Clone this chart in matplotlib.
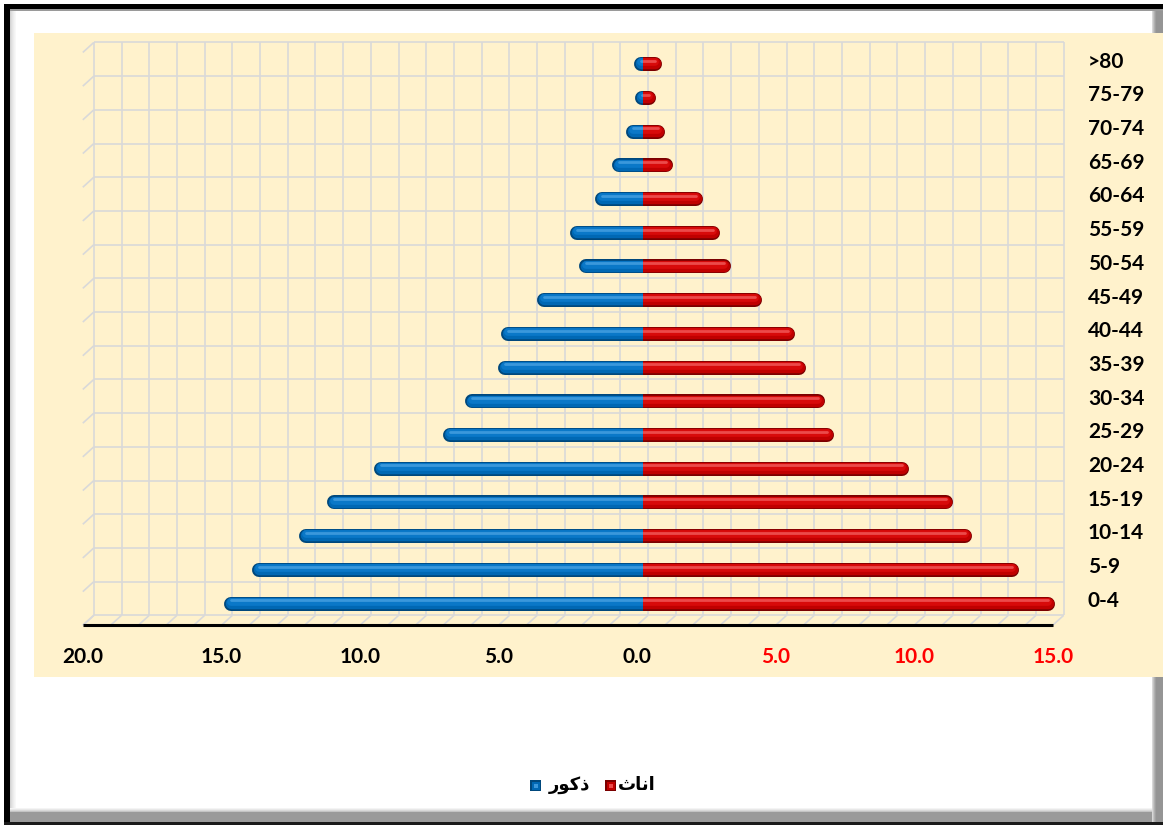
import matplotlib
matplotlib.use("Agg")
import matplotlib.pyplot as plt
from matplotlib.patches import Rectangle
from matplotlib import transforms

# age pyramid data (percent of population)
age_groups = ["0-4", "5-9", "10-14", "15-19", "20-24", "25-29", "30-34", "35-39",
              "40-44", "45-49", "50-54", "55-59", "60-64", "65-69", "70-74",
              "75-79", ">80"]
males = [15.1, 14.1, 12.4, 11.4, 9.7, 7.2, 6.4, 5.2, 5.1, 3.8, 2.3, 2.6, 1.7,
         1.1, 0.6, 0.2, 0.3]
females = [14.9, 13.6, 11.9, 11.2, 9.6, 6.9, 6.6, 5.9, 5.5, 4.3, 3.2, 2.8, 2.2,
           1.1, 0.8, 0.5, 0.7]

x_ticks = [-20, -15, -10, -5, 0, 5, 10, 15]
x_tick_labels = ["20.0", "15.0", "10.0", "5.0", "0.0", "5.0", "10.0", "15.0"]
x_tick_colors = ["black"] * 5 + ["#ff0000"] * 3

# legend entries (Arabic, pre-shaped presentation forms in visual order)
legend_males = "\uFEAD\uFEEE\uFEDB\uFEAB"    # ذكور
legend_females = "\uFE99\uFE8E\uFEE7\uFE8D"  # اناث

W, H = 1163, 825
fig = plt.figure(figsize=(W / 100, H / 100), dpi=100)
fig.patch.set_facecolor("white")


def add_rect(x0, y0, x1, y1, color, z=0):
    # rectangle given in pixels, origin at top-left
    fig.patches.append(Rectangle((x0 / W, 1 - y1 / H), (x1 - x0) / W, (y1 - y0) / H,
                                 transform=fig.transFigure, facecolor=color,
                                 edgecolor="none", zorder=z))


# frame around the chart
add_rect(4, 4, W, 9, "black")
add_rect(4, 4, 10, H, "black")
add_rect(10, 9, W, 11, "#9a9a9a")
for i, c in enumerate(["#d4d4d4", "#dedede", "#e6e6e6", "#ededed", "#f3f3f3", "#f8f8f8"]):
    add_rect(10 + i, 11, 11 + i, 812, c)
for i, c in enumerate(["#f4f4f4", "#e8e8e8", "#d8d8d8", "#c4c4c4"]):
    add_rect(10, 808 + i, 1152, 809 + i, c)
add_rect(10, 812, W, 822, "#9a9a9a")
add_rect(4, 822, W, H, "#1a1a1a")
for i, c in enumerate(["#d8d8d8", "#c4c4c4", "#b0b0b0", "#a0a0a0"]):
    add_rect(1152 + i, 11, 1153 + i, 822, c)
add_rect(1156, 11, W, 822, "#959595")

# chart background panel
add_rect(34, 33, W, 677, "#FFF2CC", z=1)

# plot scale: pixels per unit on x, pixels per category on y
PX_X, PX_Y = 27.71, 33.7
ZERO_PX, ROW0_PX = 642.5, 603.5
ax = fig.add_axes([40 / W, 1 - 670 / H, 1110 / W, 635 / H])
ax.set_zorder(5)
ax.set_xlim((40 - ZERO_PX) / PX_X, (1150 - ZERO_PX) / PX_X)
ax.set_ylim((ROW0_PX - 670) / PX_Y, (ROW0_PX - 35) / PX_Y)
ax.axis("off")
ax.patch.set_alpha(0)

# depth offset between back wall / bar plane / front edge
DX, DY = 5.5 / PX_X, 5.0 / PX_Y
n = len(age_groups)
grid_kw = dict(color="#d9d9d9", lw=1.2, zorder=1, solid_capstyle="butt")

for v in range(-20, 16):
    ax.plot([v + DX, v + DX], [-0.5 + DY, n - 0.5 + DY], **grid_kw)
    ax.plot([v - DX, v + DX], [-0.5 - DY, -0.5 + DY], **grid_kw)
for k in range(n + 1):
    y = k - 0.5
    ax.plot([-20 + DX, 15 + DX], [y + DY, y + DY], **grid_kw)
    ax.plot([-20 - DX, -20 + DX], [y - DY, y + DY], **grid_kw)
ax.plot([-20 - DX, 15 - DX], [-0.5 - DY, -0.5 - DY], color="black", lw=2.2,
        zorder=2, solid_capstyle="butt")

# tube-like bars: stacked round-capped lines with shading
BAR_PX = 14
r = (BAR_PX / 2) / PX_X
blue_shades = ["#00487c", "#0068b4", "#0a78c8", "#3a98dc"]
red_shades = ["#7a0000", "#c00000", "#d80a0a", "#ec4a4a"]
layers = [(1.0, 0.0), (0.82, 0.8), (0.55, 1.8), (0.2, 3.2)]

left_clip = Rectangle((-30, -5), 30, 40, transform=ax.transData)
right_clip = Rectangle((0, -5), 30, 40, transform=ax.transData)

for i in range(n):
    for side, vals, shades, clip in ((-1, males, blue_shades, left_clip),
                                     (1, females, red_shades, right_clip)):
        end = side * max(vals[i] - r, 0.01)
        for (frac, dy), col in zip(layers, shades):
            tr = transforms.offset_copy(ax.transData, fig=fig, x=0, y=dy, units="dots")
            ln, = ax.plot([-side * r, end], [i, i], color=col,
                          lw=BAR_PX * frac * 0.72, solid_capstyle="round",
                          transform=tr, zorder=3)
            ln.set_clip_path(clip)

# axis labels
font = "Lato"
for v, lab, c in zip(x_ticks, x_tick_labels, x_tick_colors):
    ax.text(v - DX, (ROW0_PX - 657) / PX_Y, lab, ha="center", va="center",
            color=c, fontsize=15, fontweight="bold", family=font)
for i, lab in enumerate(age_groups):
    ax.text((1088 - ZERO_PX) / PX_X, i + 0.08, lab, ha="left", va="center",
            color="black", fontsize=15, fontweight="bold", family=font)

# legend
def legend_square(x0, shades):
    add_rect(x0, 780, x0 + 11, 791, shades[0], z=2)
    add_rect(x0 + 1.5, 781.5, x0 + 9.5, 789.5, shades[1], z=3)
    add_rect(x0 + 3.5, 783.5, x0 + 7.5, 787.5, shades[3], z=4)


legend_square(530, blue_shades)
legend_square(605, red_shades)
fig.text(590 / W, 1 - 785 / H, legend_males, ha="right", va="center",
         fontsize=13, fontweight="bold", family="DejaVu Sans")
fig.text(656 / W, 1 - 785 / H, legend_females, ha="right", va="center",
         fontsize=13, fontweight="bold", family="DejaVu Sans")

fig.savefig("out.png", dpi=100)
